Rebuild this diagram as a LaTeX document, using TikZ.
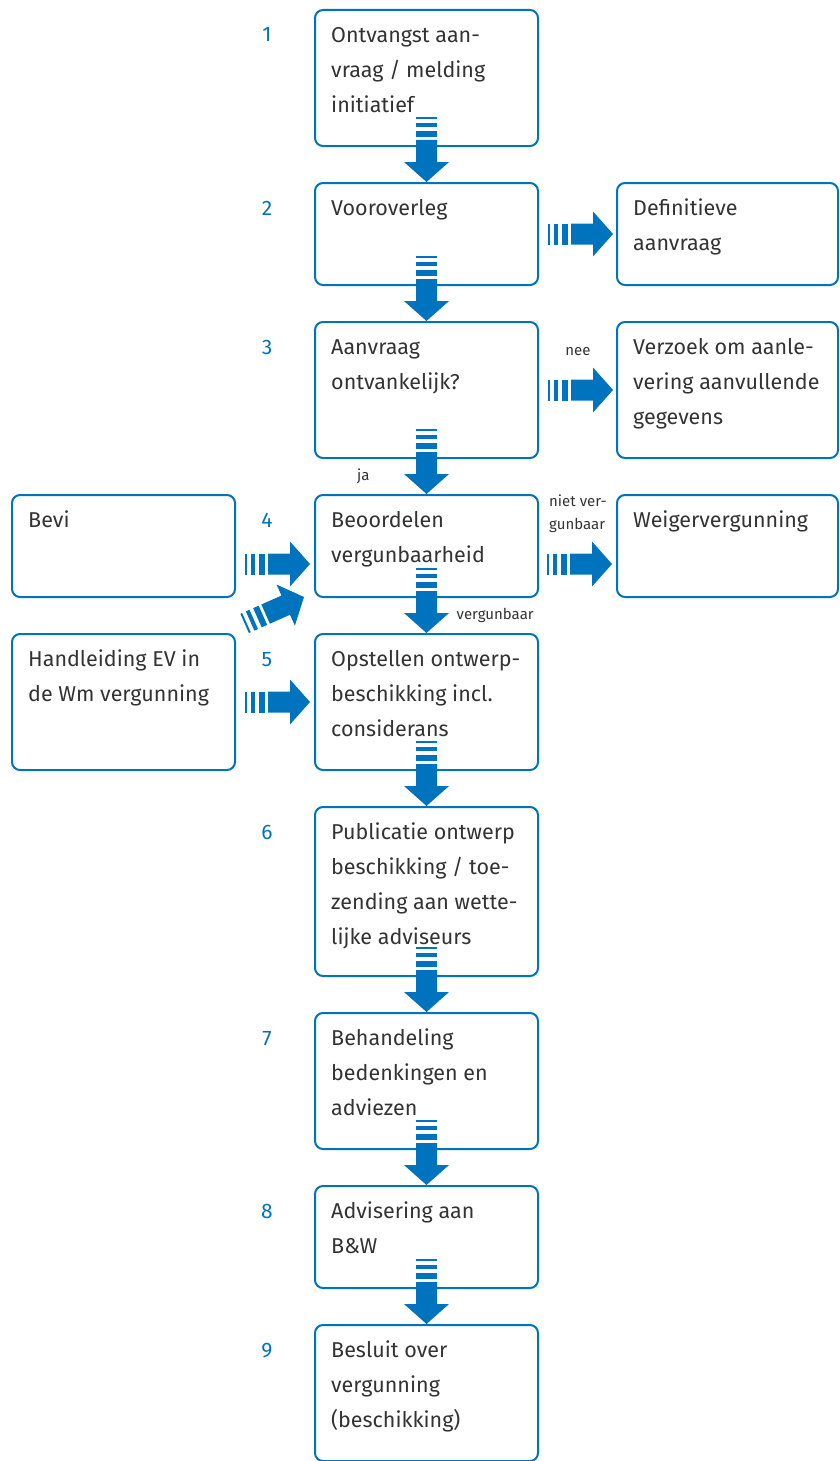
\documentclass[tikz,border=0pt]{standalone}
\usepackage{fontspec}
\setmainfont{Fira Sans}
\usetikzlibrary{calc}
\definecolor{fblue}{RGB}{0,115,190}
\definecolor{ftext}{RGB}{51,51,51}
\newcommand{\fst}{\rule{0pt}{25pt}}
\newcommand{\sst}{\rule{0pt}{13pt}}
\begin{document}
\begin{tikzpicture}[x=1pt,y=-1pt,
  box/.style={draw=fblue, line width=2pt, rounded corners=8pt, minimum width=223pt, anchor=north west, inner sep=0pt},
  rbox/.style={box, minimum width=221pt},
  h3/.style={minimum height=136pt},
  h2/.style={minimum height=102pt},
  h4/.style={minimum height=169pt},
  txt/.style={anchor=north west, inner sep=0pt, align=left, text=ftext, font=\fontsize{21.5}{35}\selectfont},
  num/.style={anchor=base, inner sep=0pt, text=fblue, font=\fontsize{21}{35}\selectfont},
  lbl/.style={inner sep=0pt, text=ftext, align=left, font=\fontsize{15}{23}\selectfont},
  flowarr/.pic={
    \fill[fblue] (0,0) -- (-20,-22.5) -- (-20,-10.5) -- (-42,-10.5) -- (-42,10.5) -- (-20,10.5) -- (-20,22.5) -- cycle;
    \fill[fblue] (-45,-10.5) rectangle (-51,10.5);
    \fill[fblue] (-55,-10.5) rectangle (-59,10.5);
    \fill[fblue] (-63,-10.5) rectangle (-65,10.5);
  }]
\useasboundingbox (0,0) rectangle (839,1461);

% main column
\node[box,h3] (b1) at (314,9) {};
\node[box,h2] (b2) at (314,182) {};
\node[box,h3] (b3) at (314,321) {};
\node[box,h2] (b4) at (314,494) {};
\node[box,h3] (b5) at (314,633) {};
\node[box,h4] (b6) at (314,806) {};
\node[box,h3] (b7) at (314,1012) {};
\node[box,h2] (b8) at (314,1185) {};
\node[box,h3] (b9) at (314,1324) {};

% side boxes
\node[rbox,h2] (d) at (616,182) {};
\node[rbox,h3] (v) at (616,321) {};
\node[rbox,h2] (w) at (616,494) {};
\node[box,h2] (bevi) at (11,494) {};
\node[box,h3] (hl) at (11,633) {};

% texts
\node[txt] (t1) at ($(b1.north west)+(17,8)$) {\fst Ontvangst aan-\\vraag / melding\\initiatief};
\node[txt] (t2) at ($(b2.north west)+(17,8)$) {\fst Vooroverleg};
\node[txt] (t3) at ($(b3.north west)+(17,8)$) {\fst Aanvraag\\ontvankelijk?};
\node[txt] (t4) at ($(b4.north west)+(17,8)$) {\fst Beoordelen\\vergunbaarheid};
\node[txt] (t5) at ($(b5.north west)+(17,8)$) {\fst Opstellen ontwerp-\\beschikking incl.\\considerans};
\node[txt] (t6) at ($(b6.north west)+(17,8)$) {\fst Publicatie ontwerp\\beschikking / toe-\\zending aan wette-\\lijke adviseurs};
\node[txt] (t7) at ($(b7.north west)+(17,8)$) {\fst Behandeling\\bedenkingen en\\adviezen};
\node[txt] (t8) at ($(b8.north west)+(17,8)$) {\fst Advisering aan\\B\&W};
\node[txt] (t9) at ($(b9.north west)+(17,8)$) {\fst Besluit over\\vergunning\\(beschikking)};
\node[txt] (td) at ($(d.north west)+(17,8)$) {\fst Definitieve\\aanvraag};
\node[txt] (tv) at ($(v.north west)+(17,8)$) {\fst Verzoek om aanle-\\vering aanvullende\\gegevens};
\node[txt] (tw) at ($(w.north west)+(17,8)$) {\fst Weigervergunning};
\node[txt] (tb) at ($(bevi.north west)+(17,8)$) {\fst Bevi};
\node[txt] (th) at ($(hl.north west)+(17,8)$) {\fst Handleiding EV in\\de Wm vergunning};

% numbers
\foreach \i in {1,...,9} {
  \node[num] (n\i) at ($(b\i.north west)+(-47,33)$) {\i};
}

% labels
\node[lbl, anchor=base] (lnee) at ($(b3.north east)+(39,34)$) {nee};
\node[lbl, anchor=base west] (lja) at ($(b4.north west)+(43,-14)$) {ja};
\node[lbl, anchor=north west] (lniet) at ($(b4.north east)+(10,-1)$) {\sst niet ver-\\gunbaar};
\node[lbl, anchor=base west] (lverg) at ($(b4.south)+(30,21)$) {vergunbaar};

% vertical arrows
\foreach \a/\b in {b1/b2,b2/b3,b3/b4,b4/b5,b5/b6,b6/b7,b7/b8,b8/b9} {
  \pic[rotate=-90] at (\b.north) {flowarr};
}

% horizontal arrows
\pic at ($(d.west)+(-3,0)$) {flowarr};
\pic at ($(v.west)+(-3,0)$) {flowarr};
\pic at ($(w.north west)+(-4,70)$) {flowarr};
\pic at ($(b4.north west)+(-4,70)$) {flowarr};
\pic at ($(b5.west)+(-4,0)$) {flowarr};
\pic[rotate=24] at ($(b4.south west)+(-10,-1)$) {flowarr};
\end{tikzpicture}
\end{document}
